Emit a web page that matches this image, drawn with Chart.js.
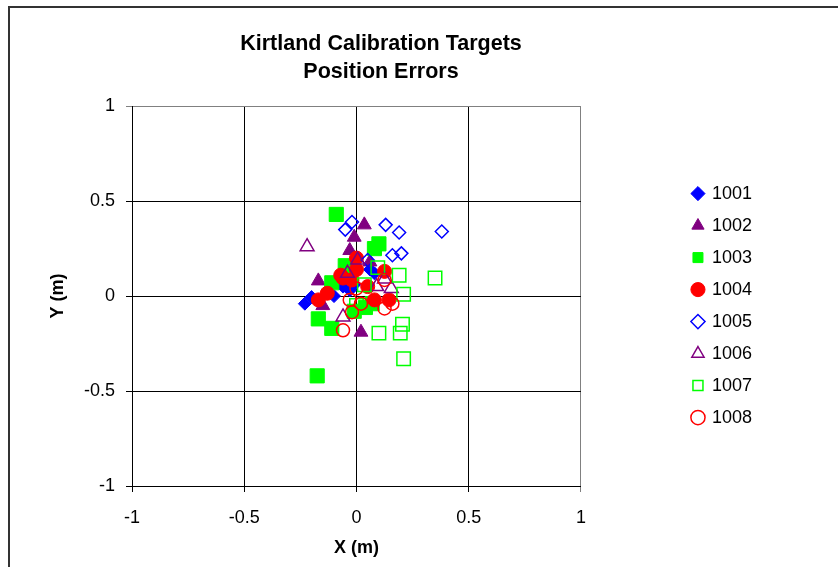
<!DOCTYPE html>
<html>
<head>
<meta charset="utf-8">
<title>Kirtland Calibration Targets</title>
<script src="https://cdn.jsdelivr.net/npm/chart.js@4"></script>
<style>
  html, body { margin: 0; padding: 0; background: #fff; overflow: hidden; }
  #frame {
    position: absolute; left: 8px; top: 6px; width: 900px; height: 620px;
    border-left: 2px solid #333; border-top: 2px solid #333;
  }
  #chart { position: absolute; left: 0; top: 0; }
</style>
</head>
<body>
<div id="frame"></div>
<canvas id="chart" width="762" height="567"></canvas>
<script>
// tick values shared by both axes
const tickValues = [-1, -0.5, 0, 0.5, 1];

// series names
const seriesNames = ["1001", "1002", "1003", "1004", "1005", "1006", "1007", "1008"];

// position errors (m)
const x1001 = [-0.23, -0.20, -0.10, -0.06, -0.03, -0.01, 0.06, 0.08];
const y1001 = [-0.04, -0.005, 0.0, 0.05, 0.03, 0.06, 0.14, 0.12];

const x1002 = [0.035, -0.01, -0.03, 0.06, -0.17, -0.15, 0.02, -0.04];
const y1002 = [0.375, 0.31, 0.24, 0.18, 0.08, -0.05, -0.19, 0.12];

const x1003 = [-0.09, 0.10, 0.08, -0.05, -0.11, -0.17, -0.11, -0.175, 0.04, 0.07, -0.01];
const y1003 = [0.43, 0.275, 0.25, 0.16, 0.07, -0.12, -0.17, -0.42, -0.06, -0.04, -0.08];

const x1004 = [0.0, -0.07, -0.06, -0.17, -0.13, 0.0, 0.08, 0.145, 0.125, -0.02, 0.05];
const y1004 = [0.2, 0.11, 0.095, -0.02, 0.015, 0.14, -0.02, -0.02, 0.13, 0.085, 0.05];

const x1005 = [-0.02, -0.05, 0.13, 0.19, 0.16, 0.20, 0.38, 0.05];
const y1005 = [0.39, 0.35, 0.375, 0.335, 0.215, 0.225, 0.34, 0.19];

const x1006 = [-0.22, 0.005, 0.09, 0.155, -0.06, 0.125, -0.04];
const y1006 = [0.26, 0.19, 0.05, 0.04, -0.11, 0.09, 0.12];

const x1007 = [0.19, 0.21, 0.205, 0.10, 0.195, 0.21, 0.35, 0.095, 0.035, 0.0];
const y1007 = [0.11, 0.01, -0.148, -0.195, -0.195, -0.33, 0.095, 0.15, 0.06, -0.05];

const x1008 = [-0.06, 0.125, 0.16, -0.02, 0.02, 0.0, 0.125, -0.03];
const y1008 = [-0.18, -0.065, -0.04, -0.085, -0.04, 0.04, 0.085, -0.02];

const xs = [x1001, x1002, x1003, x1004, x1005, x1006, x1007, x1008];
const ys = [y1001, y1002, y1003, y1004, y1005, y1006, y1007, y1008];

// marker look per series (Excel style)
const markerStyles = [
  { shape: "rectRot", color: "#0000FF", filled: true, r: 6.5 },
  { shape: "triangle", color: "#800080", filled: true, r: 8 },
  { shape: "rect", color: "#00FF00", filled: true, r: 10 },
  { shape: "circle", color: "#FF0000", filled: true, r: 7 },
  { shape: "rectRot", color: "#0000FF", filled: false, r: 6.5 },
  { shape: "triangle", color: "#800080", filled: false, r: 8 },
  { shape: "rect", color: "#00FF00", filled: false, r: 9.5 },
  { shape: "circle", color: "#FF0000", filled: false, r: 6.5 }
];

const datasets = seriesNames.map((name, i) => {
  const m = markerStyles[i];
  return {
    label: name,
    data: xs[i].map((x, j) => ({ x: x, y: ys[i][j] })),
    pointStyle: m.shape,
    pointRadius: m.r,
    pointHoverRadius: m.r,
    backgroundColor: m.filled ? m.color : "rgba(0,0,0,0)",
    borderColor: m.color,
    borderWidth: m.filled ? 1 : 1.5,
    order: seriesNames.length - i // later series drawn on top, like Excel
  };
});

const font = "'Liberation Sans', Arial, sans-serif";

const gridColor = (ctx) => (ctx.tick && ctx.tick.value === 1 ? "#808080" : "#000000");
const tickLabel = (v) => String(v);

new Chart(document.getElementById("chart"), {
  type: "scatter",
  data: { datasets: datasets },
  options: {
    responsive: false,
    animation: false,
    events: [],
    layout: { padding: 0 },
    plugins: {
      title: {
        display: true,
        text: ["Kirtland Calibration Targets", "Position Errors"],
        color: "#000",
        font: { family: font, size: 21.5, weight: "bold", lineHeight: 1.26 },
        padding: { top: 31, bottom: 21 }
      },
      legend: {
        position: "right",
        fullSize: false,
        title: { display: true, text: "", font: { size: 10 }, padding: 3.5 },
        labels: {
          usePointStyle: true,
          boxHeight: 10,
          boxWidth: 10,
          padding: 14,
          color: "#000",
          font: { family: font, size: 18 },
          sort: (a, b) => a.datasetIndex - b.datasetIndex
        }
      },
      tooltip: { enabled: false }
    },
    scales: {
      x: {
        type: "linear",
        position: "bottom",
        min: -1,
        max: 1,
        afterBuildTicks: (s) => { s.ticks = tickValues.map(v => ({ value: v })); },
        afterFit: (s) => { s.height = 81; },
        grid: { color: gridColor, lineWidth: 1, tickLength: 6, drawTicks: true },
        border: { display: true, color: "#000", width: 1 },
        ticks: { color: "#000", padding: 15, font: { family: font, size: 18 }, maxRotation: 0, callback: tickLabel },
        title: {
          display: true, text: "X (m)", color: "#000",
          font: { family: font, size: 18, weight: "bold" },
          padding: { top: 0, bottom: 8 }
        }
      },
      y: {
        type: "linear",
        position: "left",
        min: -1,
        max: 1,
        afterBuildTicks: (s) => { s.ticks = tickValues.map(v => ({ value: v })); },
        afterFit: (s) => { s.width = 132; },
        grid: { color: gridColor, lineWidth: 1, tickLength: 6, drawTicks: true },
        border: { display: true, color: "#000", width: 1 },
        ticks: { color: "#000", padding: 11, font: { family: font, size: 18 }, callback: tickLabel },
        title: {
          display: true, text: "Y (m)", color: "#000",
          font: { family: font, size: 18, weight: "bold" },
          padding: { top: 47, bottom: 0 }
        }
      },
      // empty spacer between plot and legend
      gap: {
        type: "linear",
        position: "right",
        display: true,
        grid: { display: false, drawTicks: false },
        border: { display: false },
        ticks: { display: false },
        afterFit: (s) => { s.width = 98; }
      }
    }
  }
});
</script>
</body>
</html>
